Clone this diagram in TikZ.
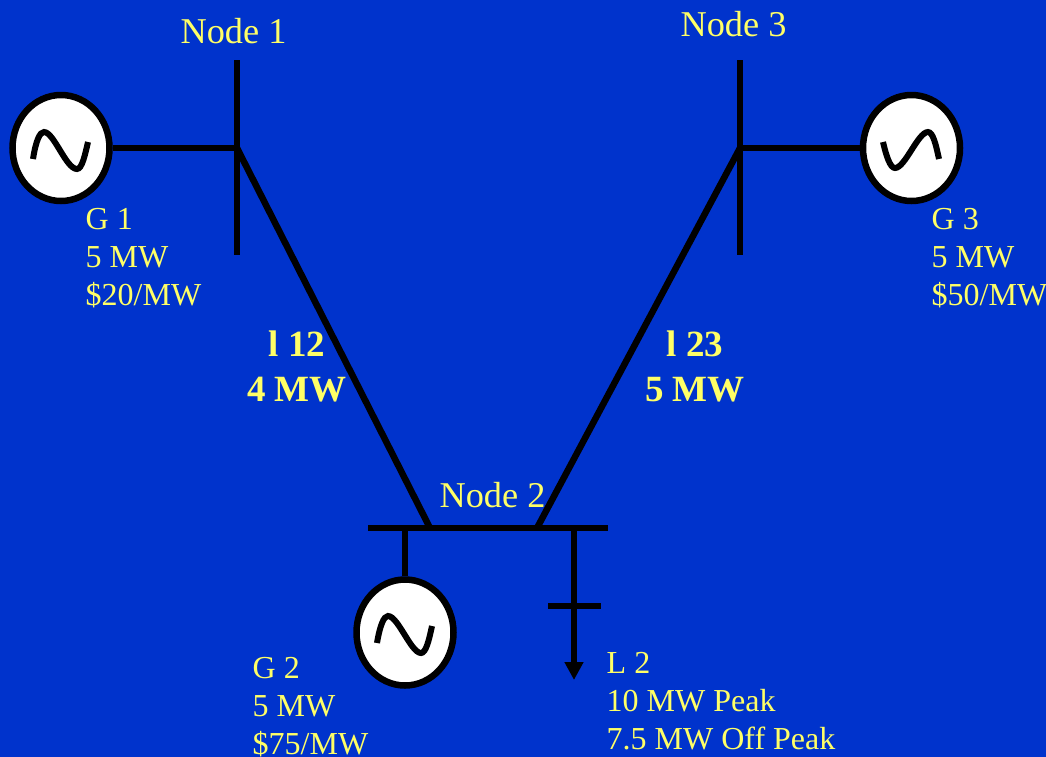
\documentclass[tikz,border=0pt]{standalone}
\usepackage{fontspec}
\setmainfont{Liberation Serif}
\usetikzlibrary{shapes.geometric,arrows.meta}
\definecolor{bgblue}{HTML}{0033CC}
\definecolor{txtyellow}{HTML}{FFFF66}
\tikzset{
  x=1pt,y=-1pt,
  wire/.style={draw=black,line width=6.5pt},
  wave/.style={draw=black,line width=6pt},
  gen/.style={ellipse,draw=black,fill=white,line width=6.5pt,minimum width=97pt,minimum height=106pt,inner sep=0pt},
  nodelabel/.style={text=txtyellow,font=\fontsize{36.3}{38}\selectfont,inner sep=0pt,anchor=base},
  info/.style={text=txtyellow,font=\fontsize{32}{38.2}\selectfont,align=left,inner sep=0pt,anchor=north west},
  linelabel/.style={text=txtyellow,font=\fontsize{37}{45}\selectfont\bfseries,align=center,inner sep=0pt,anchor=north}
}
\begin{document}
\begin{tikzpicture}
\useasboundingbox (0,0) rectangle (1046,756);
\fill[bgblue] (-3,-3) rectangle (1049,759);
\coordinate (b1t) at (237,60);
\coordinate (b1b) at (237,255);
\coordinate (b1j) at (237,148);
\coordinate (b3t) at (740,60);
\coordinate (b3b) at (740,255);
\coordinate (b3j) at (740,148);
\coordinate (b2l) at (368,528);
\coordinate (b2r) at (608,528);
\coordinate (b2a) at (430,528);
\coordinate (b2c) at (537,528);
\coordinate (b2g) at (405,528);
\coordinate (b2d) at (574,525);
\coordinate (loadend) at (574,680);
\coordinate (xl) at (548,606);
\coordinate (xr) at (601,606);
\node[gen] (g1) at (61,148) {};
\node[gen] (g3) at (911.5,148) {};
\node[gen] (g2) at (405,632.5) {};
\draw[wire] (b1t) -- (b1b);
\draw[wire] (b3t) -- (b3b);
\draw[wire] (b2l) -- (b2r);
\draw[wire] (g1) -- (b1j);
\draw[wire] (g3) -- (b3j);
\draw[wire] (g2) -- (b2g);
\draw[wire] (b1j) -- (b2a);
\draw[wire] (b3j) -- (b2c);
\draw[wire,-{Triangle[length=18pt,width=18pt]}] (b2d) -- (loadend);
\draw[wire] (xl) -- (xr);
% sine symbols
\draw[wave] (33,159) .. controls (36,140) and (40,132) .. (44,132)
  .. controls (54,132) and (66,169) .. (77,169)
  .. controls (82,169) and (85,155) .. (88,142);
\draw[wave] (883,142) .. controls (886,155) and (890,168) .. (895,168)
  .. controls (905,168) and (918,132) .. (928,132)
  .. controls (933,132) and (936,145) .. (939,159);
\draw[wave] (377,643) .. controls (380,625) and (384,616) .. (388,616)
  .. controls (398,616) and (411,653) .. (421,653)
  .. controls (426,653) and (429,640) .. (432,626);
\node[nodelabel] (n1) at (233.5,43) {Node 1};
\node[nodelabel] (n3) at (733.5,36) {Node 3};
\node[nodelabel] (n2) at (492.5,507) {Node 2};
\node[info] (i1) at (85.5,208) {G 1\\5 MW\\\$20/MW};
\node[info] (i3) at (931.5,208) {G 3\\5 MW\\\$50/MW};
\node[info] (i2) at (252.5,657) {G 2\\5 MW\\\$75/MW};
\node[info] (i4) at (606.5,652) {L 2\\10 MW Peak\\7.5 MW Off Peak};
\node[linelabel] (l12) at (297,331) {l 12\\4 MW};
\node[linelabel] (l23) at (695,331) {l 23\\5 MW};
\end{tikzpicture}
\end{document}
